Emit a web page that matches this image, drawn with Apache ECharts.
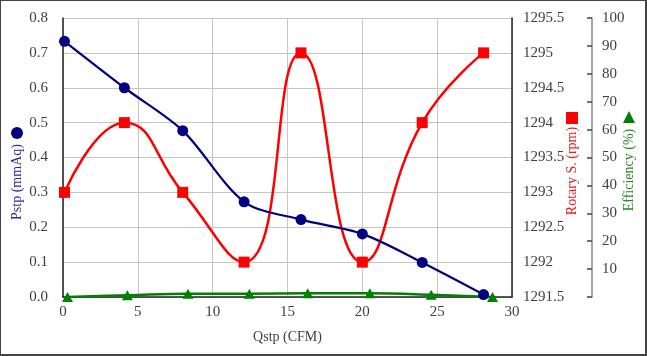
<!DOCTYPE html>
<html>
<head>
<meta charset="utf-8">
<title>Pstp / Rotary S. / Efficiency</title>
<script src="https://cdn.jsdelivr.net/npm/echarts@6/dist/echarts.min.js"></script>
<style>
  * { margin: 0; padding: 0; }
  body { width: 647px; height: 356px; background: #fff; position: relative; overflow: hidden; }
  #main { position: absolute; left: 0; top: 0; width: 647px; height: 356px; }
  #frame { position: absolute; left: 0; top: 0; width: 647px; height: 356px; box-sizing: border-box;
           border-style: solid; border-color: #444; border-width: 1px 2px 2px 1px; pointer-events: none; }
</style>
</head>
<body>
<div id="main"></div>
<div id="frame"></div>
<script>
// flow rate for the pressure / speed readings
var qstp = [0.1, 4.1, 8.0, 12.1, 15.9, 20.0, 24.0, 28.1];
var pstp = [0.733, 0.6, 0.477, 0.273, 0.222, 0.181, 0.099, 0.007];
var rotary = [1293, 1294, 1293, 1292, 1295, 1292, 1294, 1295];
// efficiency markers sit a little to the right
var qstpEff = [0.3, 4.3, 8.35, 12.45, 16.35, 20.5, 24.6, 28.7];
var efficiency = [0, 0.6, 1.2, 1.2, 1.3, 1.3, 0.8, 0];

function pairs(xs, ys) {
  var out = [];
  for (var i = 0; i < xs.length; i++) out.push([xs[i], ys[i]]);
  return out;
}

var font = 'serif';
var labelColor = '#404040';

var myChart = echarts.init(document.getElementById('main'), null, { renderer: 'canvas' });

var option = {
  animation: false,
  textStyle: { fontFamily: font },
  grid: { left: 63, right: 135, top: 18, bottom: 59 },
  xAxis: {
    type: 'value', min: 0, max: 30, interval: 5,
    name: 'Qstp (CFM)', nameLocation: 'middle', nameGap: 33,
    nameTextStyle: { color: labelColor, fontSize: 14, fontFamily: font },
    axisLine: { lineStyle: { color: '#222', width: 1.5 } },
    axisTick: { show: false },
    axisLabel: { margin: 8, fontFamily: font, fontSize: 15, color: labelColor,
      formatter: function (v) { return String(v); } },
    splitLine: { lineStyle: { color: '#c6c6c6' } }
  },
  yAxis: [
    {
      type: 'value', min: 0, max: 0.8, interval: 0.1, position: 'left',
      axisLine: { show: true, lineStyle: { color: '#222', width: 1.5 } },
      axisTick: { show: false },
      axisLabel: { margin: 15, fontFamily: font, fontSize: 15, color: labelColor,
        formatter: function (v) { return v.toFixed(1); } },
      splitLine: { lineStyle: { color: '#c6c6c6' } }
    },
    {
      type: 'value', min: 1291.5, max: 1295.5, interval: 0.5, position: 'right',
      axisLine: { show: true, lineStyle: { color: '#222', width: 1.5 } },
      axisTick: { show: false },
      axisLabel: { margin: 11, fontFamily: font, fontSize: 15, color: labelColor,
        formatter: function (v) { return String(v); } },
      splitLine: { show: false }
    },
    {
      type: 'value', min: 0, max: 100, interval: 10, position: 'right', offset: 80,
      axisLine: { show: true, lineStyle: { color: '#888', width: 1.5 } },
      axisTick: { show: true, inside: true, length: 5, lineStyle: { color: '#444', width: 1.5 } },
      axisLabel: { margin: 10, fontFamily: font, fontSize: 15, color: labelColor,
        formatter: function (v) { return v === 0 ? '' : String(v); } },
      splitLine: { show: false }
    }
  ],
  graphic: [
    { type: 'circle', shape: { cx: 17, cy: 133, r: 6 }, style: { fill: '#000080' } },
    { type: 'text', x: 17, y: 182, rotation: Math.PI / 2,
      style: { text: 'Pstp (mmAq)', fill: '#2a2aa0', fontSize: 14, fontFamily: font, align: 'center', verticalAlign: 'middle' } },
    { type: 'rect', shape: { x: 566, y: 112, width: 12, height: 12 }, style: { fill: '#ff0000' } },
    { type: 'text', x: 572, y: 171, rotation: Math.PI / 2,
      style: { text: 'Rotary S. (rpm)', fill: '#e52020', fontSize: 14, fontFamily: font, align: 'center', verticalAlign: 'middle' } },
    { type: 'polygon', shape: { points: [[629, 111], [635, 123], [623, 123]] }, style: { fill: '#008000' } },
    { type: 'text', x: 629, y: 170, rotation: Math.PI / 2,
      style: { text: 'Efficiency (%)', fill: '#2a8a2a', fontSize: 14, fontFamily: font, align: 'center', verticalAlign: 'middle' } }
  ],
  series: [
    {
      name: 'Efficiency', type: 'line', yAxisIndex: 2, data: pairs(qstpEff, efficiency),
      smooth: 0.4, symbol: 'triangle', symbolSize: [11, 10],
      lineStyle: { color: '#008000', width: 2.5 }, itemStyle: { color: '#008000' }
    },
    {
      name: 'Rotary S.', type: 'line', yAxisIndex: 1, data: pairs(qstp, rotary),
      smooth: 0.5, symbol: 'rect', symbolSize: 11,
      lineStyle: { color: '#ff0000', width: 2.5 }, itemStyle: { color: '#ff0000' }
    },
    {
      name: 'Pstp', type: 'line', yAxisIndex: 0, data: pairs(qstp, pstp),
      smooth: 0.3, symbol: 'circle', symbolSize: 11,
      lineStyle: { color: '#000080', width: 2.2 }, itemStyle: { color: '#000080' }
    }
  ]
};

myChart.setOption(option);
</script>
</body>
</html>
